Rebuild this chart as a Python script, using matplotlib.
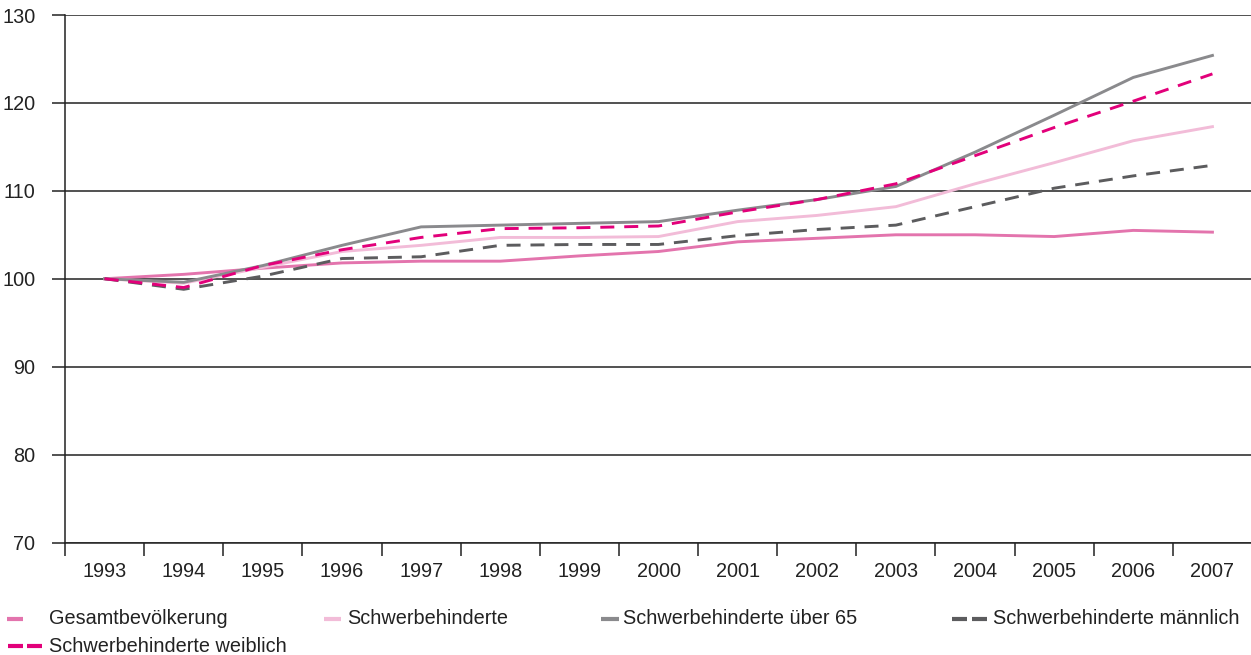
import numpy as np
import matplotlib
matplotlib.use("Agg")
import matplotlib.pyplot as plt
from matplotlib.lines import Line2D

plt.rcParams['font.family'] = ['Liberation Sans', 'DejaVu Sans']

jahre = ['1993', '1994', '1995', '1996', '1997', '1998', '1999', '2000',
         '2001', '2002', '2003', '2004', '2005', '2006', '2007']

gesamt = [100, 100.5, 101.2, 101.8, 102.0, 102.0, 102.6, 103.1,
          104.2, 104.6, 105.0, 105.0, 104.8, 105.5, 105.3]
schwer = [100, 99.5, 101.3, 103.1, 103.8, 104.7, 104.7, 104.8,
          106.5, 107.2, 108.2, 110.8, 113.2, 115.7, 117.3]
schwer_65 = [100, 99.6, 101.5, 103.8, 105.9, 106.1, 106.3, 106.5,
             107.8, 109.0, 110.5, 114.4, 118.6, 122.9, 125.4]
schwer_m = [100, 98.8, 100.3, 102.3, 102.5, 103.8, 103.9, 103.9,
            104.9, 105.6, 106.1, 108.2, 110.3, 111.7, 112.9]
schwer_w = [100, 99.0, 101.5, 103.3, 104.7, 105.7, 105.8, 106.0,
            107.6, 109.0, 110.8, 114.0, 117.2, 120.2, 123.3]

labels = ['Gesamtbevölkerung', 'Schwerbehinderte', 'Schwerbehinderte über 65',
          'Schwerbehinderte männlich', 'Schwerbehinderte weiblich']
farben = ['#e374ad', '#f2bcd8', '#8a8a8d', '#5c5c5e', '#e2007a']

W, H = 1251, 655
fig = plt.figure(figsize=(W / 100, H / 100), dpi=100)
ax = fig.add_axes([65 / W, (H - 542.5) / H, (1252 - 65) / W, (542.5 - 15) / H])

x = np.arange(len(jahre))
dash = (0, (4.8, 3.4))
ax.plot(x, gesamt, color=farben[0], lw=2.1, zorder=3)
ax.plot(x, schwer, color=farben[1], lw=2.1, zorder=3)
ax.plot(x, schwer_65, color=farben[2], lw=2.1, zorder=3)
ax.plot(x, schwer_m, color=farben[3], lw=2.1, ls=dash, zorder=3)
ax.plot(x, schwer_w, color=farben[4], lw=2.1, ls=dash, zorder=4)

ax.set_xlim(-0.5, 14.5)
ax.set_ylim(70, 130)

# Achsen
for s in ['top', 'right']:
    ax.spines[s].set_visible(False)
ax.spines['left'].set_color('#222222')
ax.spines['bottom'].set_color('#222222')
ax.spines['left'].set_linewidth(1.1)
ax.spines['bottom'].set_linewidth(1.1)

ax.set_yticks(np.arange(70, 131, 10))
ax.yaxis.grid(True, color='#222222', lw=1.1, zorder=1)
ax.set_axisbelow(True)
ax.tick_params(axis='y', length=9.4, width=1.1, color='#222222', labelsize=14.3,
               pad=12, labelcolor='#222222')

ax.set_xticks(np.arange(-0.5, 14, 1))
ax.set_xticklabels([])
ax.tick_params(axis='x', which='major', length=9.4, width=1.1, color='#222222')
ax.set_xticks(x, minor=True)
ax.set_xticklabels(jahre, minor=True)
ax.tick_params(axis='x', which='minor', length=0, labelsize=14.3, pad=14,
               labelcolor='#222222')

# Legende
def handle(x0, x1, y, farbe, gestrichelt=False):
    yy = 1 - y / H
    kw = dict(color=farbe, lw=3, solid_capstyle='butt')
    if gestrichelt:
        fig.add_artist(Line2D([x0 / W, (x0 + 15) / W], [yy, yy], **kw))
        fig.add_artist(Line2D([(x1 - 15) / W, x1 / W], [yy, yy], **kw))
    else:
        fig.add_artist(Line2D([x0 / W, x1 / W], [yy, yy], **kw))

eintraege = [(7, 23, 49, 619, False), (324, 341, 347, 619, False),
             (601, 619, 623, 619, False), (952, 987, 993, 619, True),
             (8, 42, 49, 646, True)]
for (h0, h1, tx, ty, g), lab, f in zip(eintraege, labels, farben):
    handle(h0, h1, ty, f, g)
    fig.text(tx / W, 1 - ty / H, lab, fontsize=14.3, color='#222222',
             va='center', ha='left')

fig.savefig('out.png', dpi=100)
